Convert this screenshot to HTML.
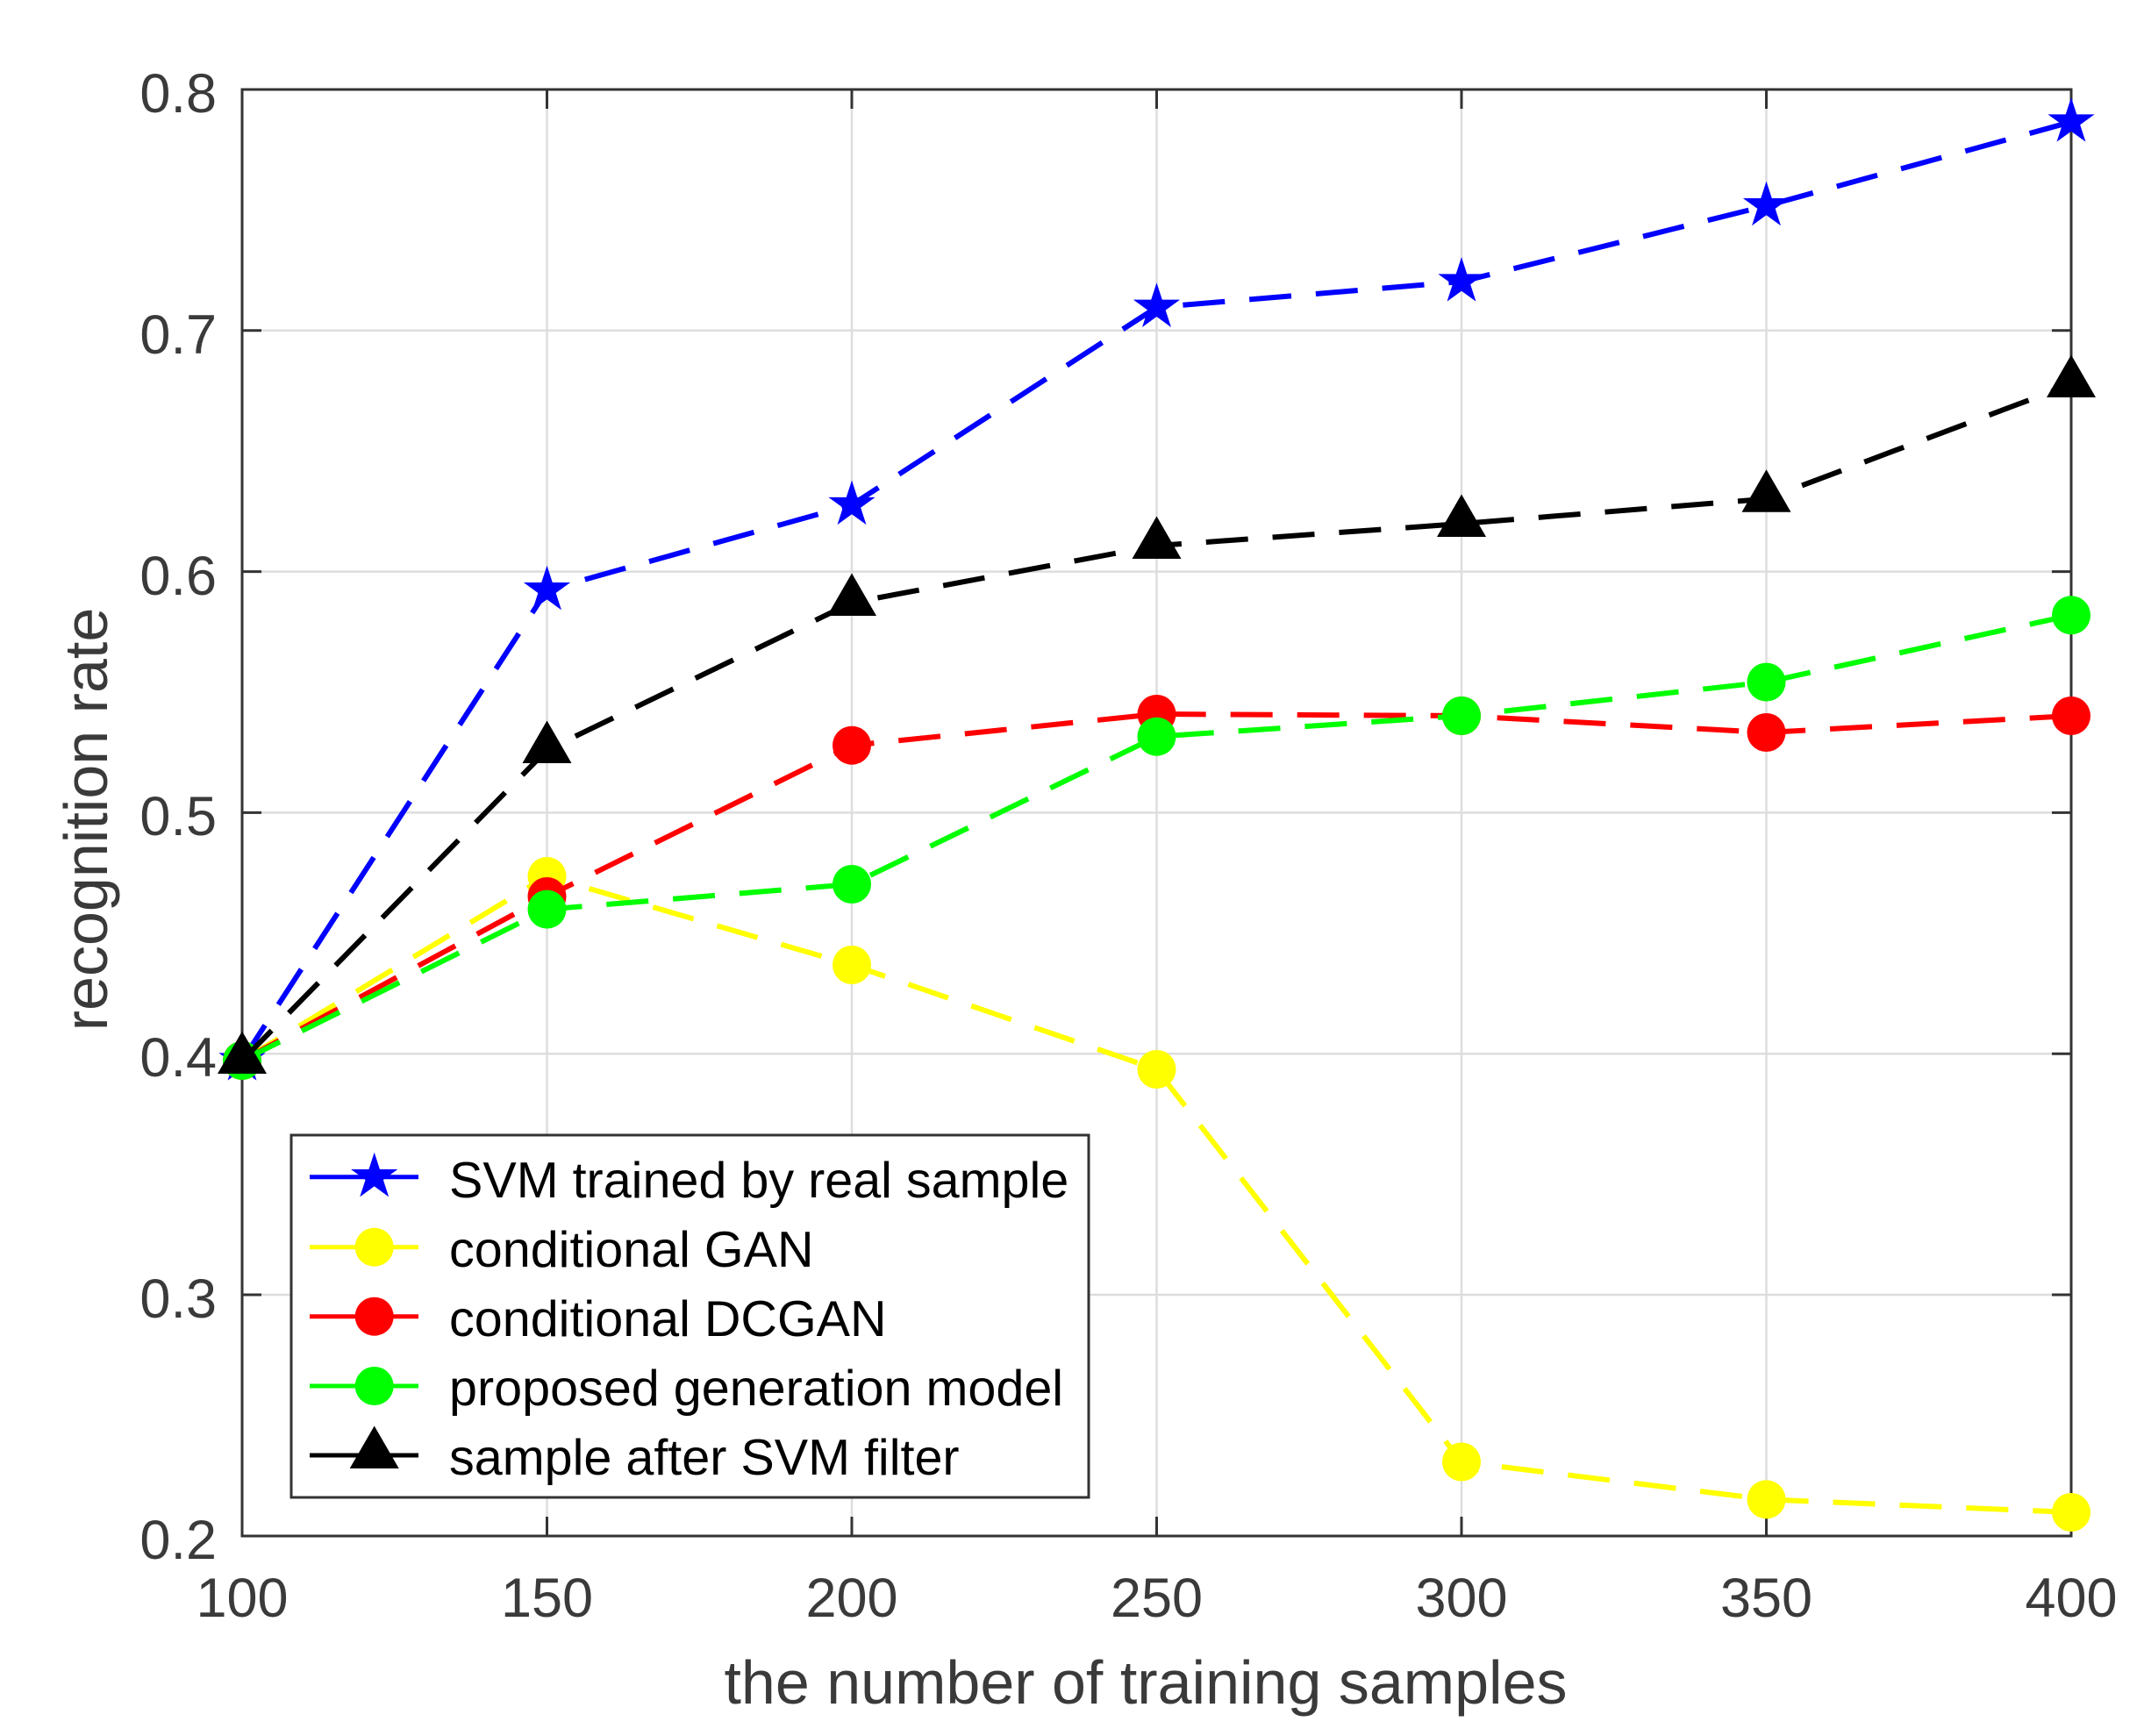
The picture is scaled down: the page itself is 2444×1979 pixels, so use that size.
<!DOCTYPE html>
<html>
<head>
<meta charset="utf-8">
<style>
  html, body { margin: 0; padding: 0; background: #ffffff; }
  svg { display: block; }
  text { font-family: "Liberation Sans", Arial, sans-serif; }
</style>
</head>
<body>
<svg width="2444" height="1979" viewBox="0 0 2444 1979" xmlns="http://www.w3.org/2000/svg">
  <defs>
    <path id="star" d="M0,-28 L6.28,-8.64 L26.63,-8.65 L10.17,3.3 L16.46,22.65 L0,10.7 L-16.46,22.65 L-10.17,3.3 L-26.63,-8.65 L-6.28,-8.64 Z"/>
    <path id="tri" d="M0,-33.5 L28,15 L-28,15 Z"/>
  </defs>
  <rect x="0" y="0" width="2444" height="1979" fill="#ffffff"/>
  <rect x="276" y="102" width="2085" height="1649" fill="#ffffff"/>

  <!-- grid -->
  <g stroke="#dddddd" stroke-width="2.5" fill="none">
    <line x1="623.5" y1="102" x2="623.5" y2="1751"/>
    <line x1="971" y1="102" x2="971" y2="1751"/>
    <line x1="1318.5" y1="102" x2="1318.5" y2="1751"/>
    <line x1="1666" y1="102" x2="1666" y2="1751"/>
    <line x1="2013.5" y1="102" x2="2013.5" y2="1751"/>
    <line x1="276" y1="376.8" x2="2361" y2="376.8"/>
    <line x1="276" y1="651.6" x2="2361" y2="651.6"/>
    <line x1="276" y1="926.4" x2="2361" y2="926.4"/>
    <line x1="276" y1="1201.2" x2="2361" y2="1201.2"/>
    <line x1="276" y1="1476" x2="2361" y2="1476"/>
  </g>

  <!-- axes box and ticks -->
  <g stroke="#333333" stroke-width="3" fill="none">
    <rect x="276" y="102" width="2085" height="1649"/>
    <line x1="623.5" y1="1751" x2="623.5" y2="1729"/>
    <line x1="971" y1="1751" x2="971" y2="1729"/>
    <line x1="1318.5" y1="1751" x2="1318.5" y2="1729"/>
    <line x1="1666" y1="1751" x2="1666" y2="1729"/>
    <line x1="2013.5" y1="1751" x2="2013.5" y2="1729"/>
    <line x1="623.5" y1="102" x2="623.5" y2="124"/>
    <line x1="971" y1="102" x2="971" y2="124"/>
    <line x1="1318.5" y1="102" x2="1318.5" y2="124"/>
    <line x1="1666" y1="102" x2="1666" y2="124"/>
    <line x1="2013.5" y1="102" x2="2013.5" y2="124"/>
    <line x1="276" y1="376.8" x2="298" y2="376.8"/>
    <line x1="276" y1="651.6" x2="298" y2="651.6"/>
    <line x1="276" y1="926.4" x2="298" y2="926.4"/>
    <line x1="276" y1="1201.2" x2="298" y2="1201.2"/>
    <line x1="276" y1="1476" x2="298" y2="1476"/>
    <line x1="2361" y1="376.8" x2="2339" y2="376.8"/>
    <line x1="2361" y1="651.6" x2="2339" y2="651.6"/>
    <line x1="2361" y1="926.4" x2="2339" y2="926.4"/>
    <line x1="2361" y1="1201.2" x2="2339" y2="1201.2"/>
    <line x1="2361" y1="1476" x2="2339" y2="1476"/>
  </g>

  <!-- tick labels -->
  <g fill="#3a3a3a" font-size="63" text-anchor="end">
    <text x="247" y="128">0.8</text>
    <text x="247" y="403">0.7</text>
    <text x="247" y="678">0.6</text>
    <text x="247" y="952">0.5</text>
    <text x="247" y="1227">0.4</text>
    <text x="247" y="1502">0.3</text>
    <text x="247" y="1777">0.2</text>
  </g>
  <g fill="#3a3a3a" font-size="63" text-anchor="middle">
    <text x="276" y="1843">100</text>
    <text x="623.5" y="1843">150</text>
    <text x="971" y="1843">200</text>
    <text x="1318.5" y="1843">250</text>
    <text x="1666" y="1843">300</text>
    <text x="2013.5" y="1843">350</text>
    <text x="2361" y="1843">400</text>
  </g>

  <!-- axis labels -->
  <text x="1306" y="1942" font-size="70" fill="#3a3a3a" text-anchor="middle">the number of training samples</text>
  <text transform="translate(122,934) rotate(-90)" font-size="70" fill="#3a3a3a" text-anchor="middle">recognition rate</text>

  <!-- series: SVM trained by real sample (blue stars) -->
  <polyline fill="none" stroke="#0000ff" stroke-width="6" stroke-dasharray="48 28"
    points="276,1209 623.5,672.7 971,575.5 1318.5,350.3 1666,321 2013.5,234.6 2361,139"/>
  <g fill="#0000ff">
    <use href="#star" x="276" y="1209"/>
    <use href="#star" x="623.5" y="672.7"/>
    <use href="#star" x="971" y="575.5"/>
    <use href="#star" x="1318.5" y="350.3"/>
    <use href="#star" x="1666" y="321"/>
    <use href="#star" x="2013.5" y="234.6"/>
    <use href="#star" x="2361" y="139"/>
  </g>

  <!-- series: conditional GAN (yellow) -->
  <polyline fill="none" stroke="#ffff00" stroke-width="6" stroke-dasharray="48 28"
    points="276,1209 623.5,999 971,1100 1318.5,1219 1666,1666.5 2013.5,1709.3 2361,1724"/>
  <g fill="#ffff00">
    <circle cx="276" cy="1209" r="22"/>
    <circle cx="623.5" cy="999" r="22"/>
    <circle cx="971" cy="1100" r="22"/>
    <circle cx="1318.5" cy="1219" r="22"/>
    <circle cx="1666" cy="1666.5" r="22"/>
    <circle cx="2013.5" cy="1709.3" r="22"/>
    <circle cx="2361" cy="1724" r="22"/>
  </g>

  <!-- series: conditional DCGAN (red) -->
  <polyline fill="none" stroke="#ff0000" stroke-width="6" stroke-dasharray="48 28"
    points="276,1209 623.5,1022 971,849.7 1318.5,814 1666,816 2013.5,835 2361,816"/>
  <g fill="#ff0000">
    <circle cx="276" cy="1209" r="22"/>
    <circle cx="623.5" cy="1022" r="22"/>
    <circle cx="971" cy="849.7" r="22"/>
    <circle cx="1318.5" cy="814" r="22"/>
    <circle cx="1666" cy="816" r="22"/>
    <circle cx="2013.5" cy="835" r="22"/>
    <circle cx="2361" cy="816" r="22"/>
  </g>

  <!-- series: proposed generation model (green) -->
  <polyline fill="none" stroke="#00ff00" stroke-width="6" stroke-dasharray="48 28"
    points="276,1209 623.5,1036.6 971,1008 1318.5,839.7 1666,816 2013.5,777.6 2361,701.3"/>
  <g fill="#00ff00">
    <circle cx="276" cy="1209" r="22"/>
    <circle cx="623.5" cy="1036.6" r="22"/>
    <circle cx="971" cy="1008" r="22"/>
    <circle cx="1318.5" cy="839.7" r="22"/>
    <circle cx="1666" cy="816" r="22"/>
    <circle cx="2013.5" cy="777.6" r="22"/>
    <circle cx="2361" cy="701.3" r="22"/>
  </g>

  <!-- series: sample after SVM filter (black triangles) -->
  <polyline fill="none" stroke="#000000" stroke-width="6" stroke-dasharray="48 28"
    points="276,1209 623.5,855 971,687 1318.5,622 1666,597 2013.5,568.7 2361,438"/>
  <g fill="#000000">
    <use href="#tri" x="276" y="1209"/>
    <use href="#tri" x="623.5" y="855"/>
    <use href="#tri" x="971" y="687"/>
    <use href="#tri" x="1318.5" y="622"/>
    <use href="#tri" x="1666" y="597"/>
    <use href="#tri" x="2013.5" y="568.7"/>
    <use href="#tri" x="2361" y="438"/>
  </g>

  <!-- legend -->
  <rect x="332" y="1294" width="909" height="413" fill="#ffffff" stroke="#333333" stroke-width="3"/>
  <g stroke-width="5">
    <line x1="353" y1="1341.7" x2="477" y2="1341.7" stroke="#0000ff"/>
    <line x1="353" y1="1421.7" x2="477" y2="1421.7" stroke="#ffff00"/>
    <line x1="353" y1="1500.7" x2="477" y2="1500.7" stroke="#ff0000"/>
    <line x1="353" y1="1580" x2="477" y2="1580" stroke="#00ff00"/>
    <line x1="353" y1="1659" x2="477" y2="1659" stroke="#000000"/>
  </g>
  <use href="#star" x="426.7" y="1341.7" fill="#0000ff"/>
  <circle cx="426.7" cy="1421.7" r="22" fill="#ffff00"/>
  <circle cx="426.7" cy="1500.7" r="22" fill="#ff0000"/>
  <circle cx="426.7" cy="1580" r="22" fill="#00ff00"/>
  <use href="#tri" x="426.7" y="1659" fill="#000000"/>
  <g fill="#000000" font-size="57.5">
    <text x="512" y="1365">SVM trained by real sample</text>
    <text x="512" y="1444">conditional GAN</text>
    <text x="512" y="1523">conditional DCGAN</text>
    <text x="512" y="1602">proposed generation model</text>
    <text x="512" y="1681">sample after SVM filter</text>
  </g>
</svg>
</body>
</html>
